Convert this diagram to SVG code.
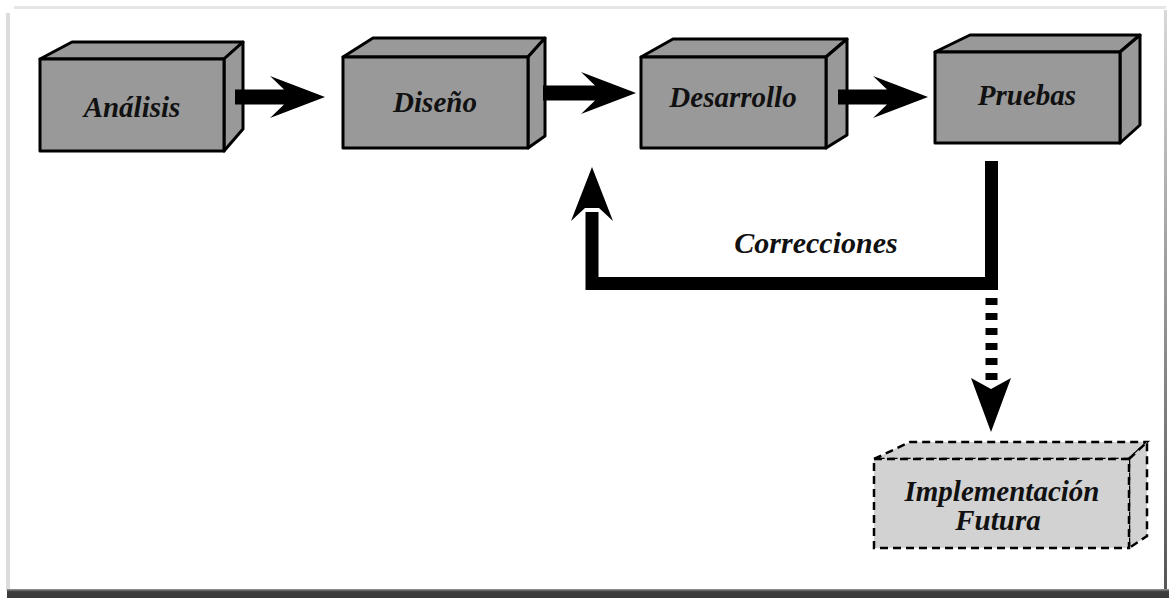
<svg xmlns="http://www.w3.org/2000/svg" width="1169" height="598" viewBox="0 0 1169 598">
<defs>
<linearGradient id="rg" x1="0" y1="0" x2="0" y2="1"><stop offset="0" stop-color="#d8d8d8"/><stop offset="1" stop-color="#555"/></linearGradient>
<linearGradient id="bg" x1="0" y1="0" x2="0" y2="1"><stop offset="0" stop-color="#9a9a9a"/><stop offset="0.3" stop-color="#3c3c3c"/><stop offset="1" stop-color="#3a3a3a"/></linearGradient>
</defs>
<style>
.box{fill:#999;stroke:#000;stroke-width:3;stroke-linejoin:round}
.fbox{fill:#d2d2d2;stroke:#000;stroke-width:2.5;stroke-dasharray:8 5}
.lbl{font-weight:bold;font-style:italic;font-size:29px;fill:#111;text-anchor:middle}
.arr{fill:#000}
</style>
<rect width="1169" height="598" fill="#fff"/>
<g id="frame">
<rect x="14" y="6" width="1152" height="3" fill="#e6e6e6"/>
<rect x="6" y="13" width="4" height="578" fill="#dcdcdc"/>
<rect x="1164" y="10" width="3" height="582" fill="url(#rg)"/>
<rect x="7" y="589" width="1162" height="9" fill="url(#bg)"/>
</g>
<g font-family="Liberation Serif, Times New Roman, serif">
<g id="analisis">
<polygon class="box" points="40,59 72,42 243,42 224,59"/>
<polygon class="box" points="224,59 243,42 243,129 224,151"/>
<rect class="box" x="40" y="59" width="184" height="92"/>
<text class="lbl" x="132" y="117">Análisis</text>
</g>
<g id="diseno">
<polygon class="box" points="343,57 373,38 545,38 528,57"/>
<polygon class="box" points="528,57 545,38 545,136 528,148"/>
<rect class="box" x="343" y="57" width="185" height="91"/>
<text class="lbl" x="435" y="112">Diseño</text>
</g>
<g id="desarrollo">
<polygon class="box" points="641,57 673,39 847,39 826,57"/>
<polygon class="box" points="826,57 847,39 847,135 826,148"/>
<rect class="box" x="641" y="57" width="185" height="91"/>
<text class="lbl" x="733" y="107">Desarrollo</text>
</g>
<g id="pruebas">
<polygon class="box" points="935,52 970,35 1140,35 1120,52"/>
<polygon class="box" points="1120,52 1140,35 1140,125 1120,143"/>
<rect class="box" x="935" y="52" width="185" height="91"/>
<text class="lbl" x="1027" y="105">Pruebas</text>
</g>
<g id="implementacion">
<polygon class="fbox" points="874,459 910,442 1147,442 1129,459"/>
<polygon class="fbox" points="1129,459 1147,442 1147,536 1129,548"/>
<rect class="fbox" x="874" y="459" width="255" height="89"/>
<text class="lbl" x="1002" y="501">Implementación</text>
<text class="lbl" x="998" y="530">Futura</text>
</g>
<g id="connectors">
<polygon class="arr" points="235,89.5 284,89.5 270,76 325,97 270,118 284,104.5 235,104.5"/>
<polygon class="arr" points="543,85.5 595,85.5 581,72 636,93 581,114 595,100.5 543,100.5"/>
<polygon class="arr" points="838,89.5 887,89.5 873,76 928,97 873,118 887,104.5 838,104.5"/>
<path d="M991.5 161 V283.5 H592 V212" fill="none" stroke="#000" stroke-width="13"/>
<polygon class="arr" points="592,167 613,221 599,208 585,208 571,221"/>
<line x1="991.5" y1="298" x2="991.5" y2="382" stroke="#000" stroke-width="12" stroke-dasharray="7 8"/>
<polygon class="arr" points="971,378 991,389 1011,378 991,432"/>
<text class="lbl" x="816" y="253" font-size="30" style="font-size:30px">Correcciones</text>
</g>
</g>
</svg>
